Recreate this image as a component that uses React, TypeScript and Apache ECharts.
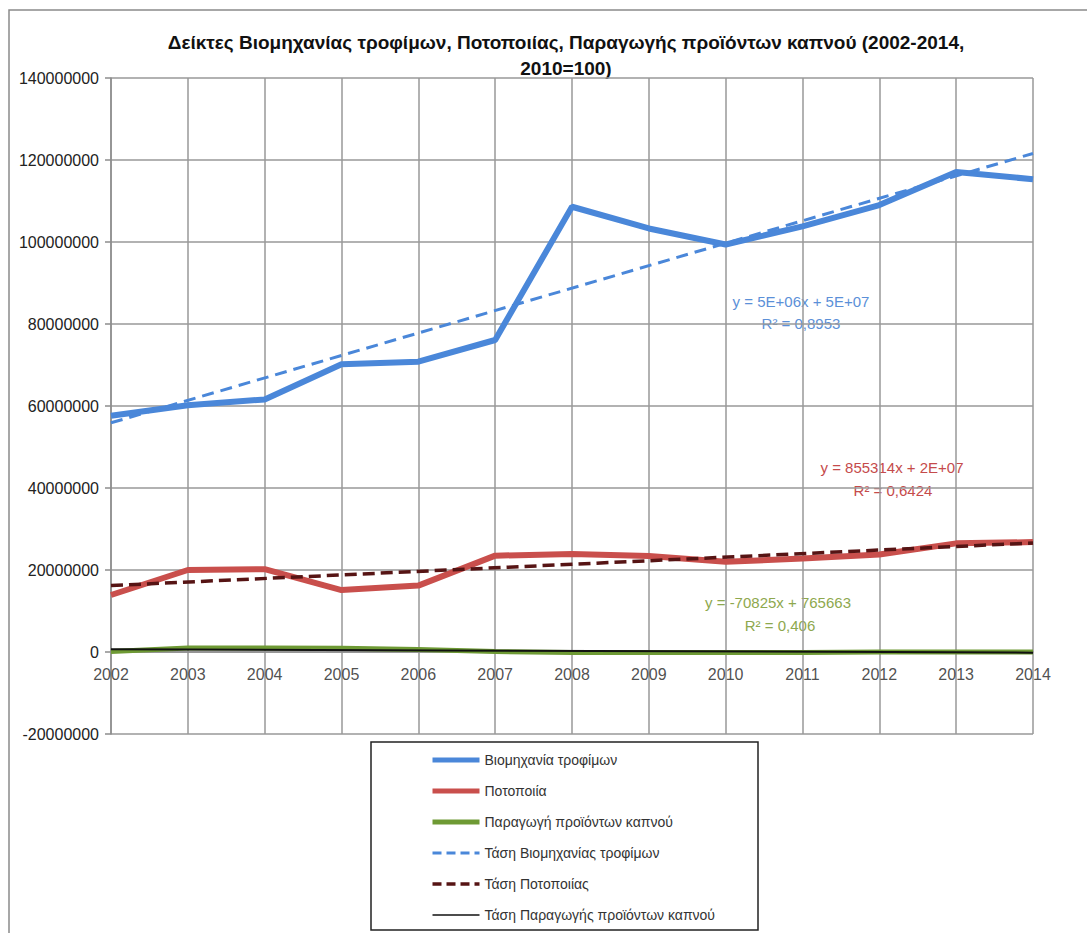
import React, { useEffect, useRef } from "react";
import * as echarts from "echarts";

const years = ["2002", "2003", "2004", "2005", "2006", "2007", "2008", "2009", "2010", "2011", "2012", "2013", "2014"];
const food = [57600000, 60200000, 61600000, 70200000, 70800000, 76100000, 108600000, 103300000, 99400000, 103800000, 109000000, 117100000, 115300000];
const drinks = [13900000, 20000000, 20200000, 15100000, 16200000, 23500000, 23900000, 23400000, 22000000, 22800000, 23800000, 26500000, 26800000];
const tobacco = [100000, 1000000, 1000000, 900000, 600000, 100000, -100000, -100000, -100000, -100000, 0, 0, 0];
const trendFood = [55900000, 121600000];
const trendDrinks = [16200000, 26600000];
const trendTobacco = [694838, -155062];

const seriesNames = [
  "Βιομηχανία τροφίμων",
  "Ποτοποιία",
  "Παραγωγή προϊόντων καπνού",
  "Τάση Βιομηχανίας τροφίμων",
  "Τάση Ποτοποιίας",
  "Τάση Παραγωγής προϊόντων καπνού",
];
const titleLines = [
  "Δείκτες Βιομηχανίας τροφίμων, Ποτοποιίας, Παραγωγής προϊόντων καπνού (2002-2014,",
  "2010=100)",
];
const equations = [
  ["y = 5E+06x + 5E+07", "R² = 0,8953"],
  ["y = 855314x + 2E+07", "R² = 0,6424"],
  ["y = -70825x + 765663", "R² = 0,406"],
];

const FONT = '"Liberation Sans", Arial, sans-serif';
const BLUE = "#4a87d9";
const RED = "#c94f4c";
const GREEN = "#6e9a34";
const DARKRED = "#561414";
const TREND_BLACK = "#111111";
const LABEL = "#222222";

const ends = (v: number[]) => [
  [years[0], v[0]],
  [years[years.length - 1], v[1]],
];

export default function App() {
  const ref = useRef<HTMLDivElement>(null);
  useEffect(() => {
    if (!ref.current) return;
    const chart = echarts.init(ref.current, null, { renderer: "svg" });
    const eqText = (x: number, y: number, text: string, color: string) => ({
      type: "text",
      x,
      y,
      style: { text, fill: color, font: `15px ${FONT}`, textAlign: "center", textVerticalAlign: "middle" },
    });
    const legendWidths = [5, 5, 5, 3, 3.5, 1.5];
    const legendDash: any[] = ["solid", "solid", "solid", [9, 5], [9, 5], "solid"];
    chart.setOption({
      animation: false,
      backgroundColor: "#ffffff",
      grid: { left: 111, right: 54, top: 78, bottom: 199, containLabel: false },
      xAxis: {
        type: "category",
        data: years,
        boundaryGap: false,
        axisLine: { onZero: true, lineStyle: { color: "#8c8c8c", width: 1.5 } },
        axisTick: { show: false },
        axisLabel: { show: false },
        splitLine: { show: true, lineStyle: { color: "#999", width: 1.5 } },
      },
      yAxis: {
        type: "value",
        min: -20000000,
        max: 140000000,
        interval: 20000000,
        axisLine: { show: true, lineStyle: { color: "#8c8c8c", width: 1.5 } },
        axisTick: { show: true, length: 6, lineStyle: { color: "#8c8c8c", width: 1.5 } },
        axisLabel: { color: LABEL, fontSize: 16, fontFamily: FONT, margin: 12, formatter: (v: number) => String(v) },
        splitLine: { show: true, lineStyle: { color: "#999", width: 1.5 } },
      },
      legend: {
        orient: "vertical",
        left: 430,
        top: 753,
        itemWidth: 47,
        itemHeight: 14,
        itemGap: 17,
        padding: 0,
        itemStyle: { color: "rgba(0,0,0,0)", borderWidth: 0, opacity: 0 },
        textStyle: { color: "#333", fontSize: 14, fontFamily: FONT },
        data: seriesNames.map((name, i) => ({
          name,
          lineStyle: { width: legendWidths[i], type: legendDash[i] },
        })),
      },
      series: [
        { name: seriesNames[0], type: "line", data: food, symbol: "none", lineStyle: { color: BLUE, width: 6 }, itemStyle: { color: BLUE }, z: 2 },
        { name: seriesNames[1], type: "line", data: drinks, symbol: "none", lineStyle: { color: RED, width: 6 }, itemStyle: { color: RED }, z: 2 },
        { name: seriesNames[2], type: "line", data: tobacco, symbol: "none", lineStyle: { color: GREEN, width: 5 }, itemStyle: { color: GREEN }, z: 2 },
        { name: seriesNames[3], type: "line", data: ends(trendFood), symbol: "none", lineStyle: { color: BLUE, width: 3, type: [12, 7] }, itemStyle: { color: BLUE }, z: 3 },
        { name: seriesNames[4], type: "line", data: ends(trendDrinks), symbol: "none", lineStyle: { color: DARKRED, width: 3.5, type: [12, 6] }, itemStyle: { color: DARKRED }, z: 3 },
        { name: seriesNames[5], type: "line", data: ends(trendTobacco), symbol: "none", lineStyle: { color: TREND_BLACK, width: 2 }, itemStyle: { color: TREND_BLACK }, z: 3 },
        {
          name: "xLabels",
          type: "scatter",
          silent: true,
          symbolSize: 1,
          itemStyle: { color: "rgba(0,0,0,0)" },
          data: years.map((y) => ({ name: y, value: [y, 0] })),
          label: { show: true, position: "bottom", distance: 14, formatter: "{b}", color: LABEL, fontSize: 16, fontFamily: FONT },
          labelLayout: { hideOverlap: false },
          z: 4,
        },
      ],
      graphic: [
        { type: "rect", shape: { x: 9, y: 10, width: 1100, height: 1000 }, style: { fill: "none", stroke: "#8a8a8a", lineWidth: 1.5 }, silent: true, z: -10 },
        { type: "rect", shape: { x: 371, y: 742, width: 387, height: 188 }, style: { fill: "#fff", stroke: "#222", lineWidth: 1.5 }, silent: true, z: -1 },
        { type: "text", x: 566, y: 42, style: { text: titleLines[0], fill: "#111", font: `bold 19px ${FONT}`, textAlign: "center", textVerticalAlign: "middle" } },
        { type: "text", x: 566, y: 68, style: { text: titleLines[1], fill: "#111", font: `bold 19px ${FONT}`, textAlign: "center", textVerticalAlign: "middle" } },
        eqText(801, 301, equations[0][0], "#5b90d8"),
        eqText(801, 323, equations[0][1], "#5b90d8"),
        eqText(892, 467, equations[1][0], "#c54b4b"),
        eqText(893, 490, equations[1][1], "#c54b4b"),
        eqText(778, 602, equations[2][0], "#8ea84e"),
        eqText(780, 625, equations[2][1], "#8ea84e"),
      ],
    });
    return () => chart.dispose();
  }, []);
  return <div ref={ref} style={{ position: "fixed", left: 0, top: 0, width: 1087, height: 933 }} />;
}
